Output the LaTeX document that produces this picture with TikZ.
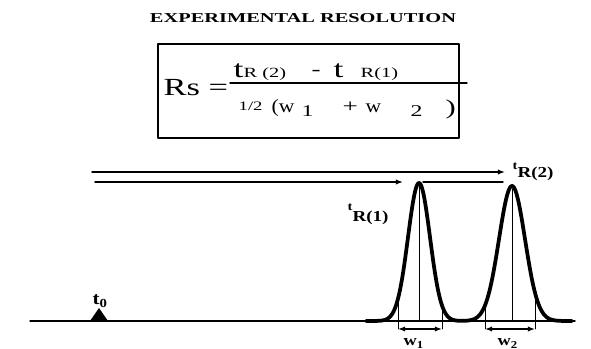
\documentclass[tikz,border=0pt]{standalone}
\usepackage{fontspec}
\setmainfont{Liberation Serif}
\usepackage{graphicx}
\usetikzlibrary{arrows.meta}

\newcommand{\wide}[2][1.45]{\scalebox{#1}[1]{#2}}
\newcommand{\fs}[1]{\fontsize{#1}{#1}\selectfont}

\begin{document}
\begin{tikzpicture}[
	x=0.03cm,
	y=-0.03cm,
	line cap=round,
	line join=round,
	line width=1.2pt,
	hair/.style={line width=0.8pt},
	peakline/.style={line width=3.2pt},
	tip/.style={-{Latex[length=6pt,width=4.5pt]}},
	widthtip/.style={{Latex[length=6pt,width=4.5pt]}-{Latex[length=6pt,width=4.5pt]}},
	txt/.style={inner sep=0pt,anchor=base west}
	]
	
	\useasboundingbox (0,0) rectangle (591,349);
	
	\def\BaseY{321}
	\def\PeakOneX{419}
	\def\PeakOneH{138}
	\def\PeakOneS{11}
	\def\PeakTwoX{512}
	\def\PeakTwoH{135}
	\def\PeakTwoS{13}
	
	\newcommand{\Bump}[3]{#2*exp(-min(0.5*((\x-#1)/#3)^2,9))}
	
	% Title
	\node[font=\bfseries\fs{11.6}] (title) at (303,18) {\wide[1.5]{EXPERIMENTAL RESOLUTION}};
	
	% Formula box
	\draw[line width=1.5pt] (158,44) rectangle (459,138);
	\node[txt,font=\fs{21}] (rs) at (163,96) {\wide[1.4]{Rs =}};
	\draw (230,83) -- (467,83);
	\node[txt,font=\fs{21}] (numt1) at (233,78) {\wide{t}};
	\node[txt,font=\fs{12}] (numr1) at (243,78) {\wide{R (2)}};
	\node[txt,font=\fs{16}] (numminus) at (311,76) {\wide{-}};
	\node[txt,font=\fs{21}] (numt2) at (333,78) {\wide{t}};
	\node[txt,font=\fs{12}] (numr2) at (360,78) {\wide{R(1)}};
	\node[txt,font=\fs{11}] (half) at (238,111) {\wide{1/2}};
	\node[txt,font=\fs{16}] (wone) at (271,113) {\wide[1.15]{(w}};
	\node[txt,font=\fs{14}] (subone) at (301,117) {\wide{1}};
	\node[txt,font=\fs{16}] (plus) at (342,113) {\wide{+}};
	\node[txt,font=\fs{16}] (wtwo) at (365,113) {\wide[1.15]{w}};
	\node[txt,font=\fs{14}] (subtwo) at (410,117) {\wide{2}};
	\node[txt,font=\fs{18}] (close) at (445,115) {\wide{)}};
	
	% Retention lines
	\coordinate (startone) at (95,182);
	\coordinate (starttwo) at (92,172);
	\coordinate (topone) at (403,182);
	\coordinate (toptwo) at (505,172);
	\coordinate (crestone) at (423,182);
	\coordinate (cresttwo) at (503,182);
	\draw[tip] (starttwo) -- (toptwo);
	\draw[tip] (startone) -- (topone);
	\draw (crestone) -- (cresttwo);
	
	% Baseline and injection
	\draw (30,\BaseY) -- (575,\BaseY);
	\fill (90,\BaseY) -- (99,308) -- (108,\BaseY) -- cycle;
	\node[txt,font=\bfseries\fs{15}] (tzero) at (92,305) {\wide[1.2]{t\textsubscript{0}}};
	
	% Peaks
	\draw[peakline] plot[domain=366:572,samples=220]
		(\x,{\BaseY-\Bump{\PeakOneX}{\PeakOneH}{\PeakOneS}-\Bump{\PeakTwoX}{\PeakTwoH}{\PeakTwoS}});
	\draw[hair] (\PeakOneX,186) -- (\PeakOneX,\BaseY);
	\draw[hair] (\PeakTwoX,189) -- (\PeakTwoX,\BaseY);
	
	% Peak labels
	\node[txt,font=\bfseries\fs{13}] (trone) at (347,222) {\wide[1.25]{\raisebox{10pt}{\fs{10}t}R(1)}};
	\node[txt,font=\bfseries\fs{13}] (trtwo) at (512,178) {\wide[1.25]{\raisebox{7pt}{\fs{10}t}R(2)}};
	
	% Widths
	\coordinate (wa) at (398,329);
	\coordinate (wb) at (442,329);
	\coordinate (wc) at (485,329);
	\coordinate (wd) at (535,329);
	\draw[hair] (398,299) -- (wa);
	\draw[hair] (442,305) -- (wb);
	\draw[hair] (485,305) -- (wc);
	\draw[hair] (535,293) -- (wd);
	\draw[widthtip] (wa) -- (wb);
	\draw[widthtip] (wc) -- (wd);
	\node[txt,font=\bfseries\fs{13}] (wlabone) at (403,346) {\wide[1.2]{w\textsubscript{1}}};
	\node[txt,font=\bfseries\fs{13}] (wlabtwo) at (497,346) {\wide[1.2]{w\textsubscript{2}}};
	
\end{tikzpicture}
\end{document}
